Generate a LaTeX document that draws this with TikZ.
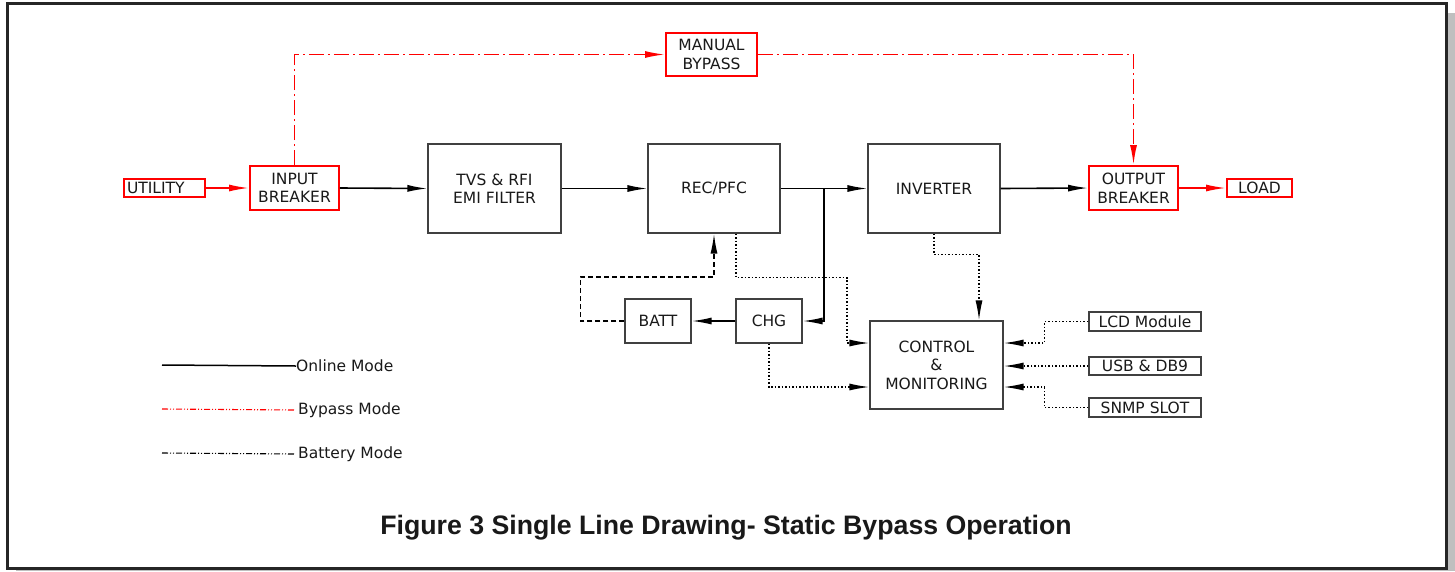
\documentclass[tikz,border=0pt]{standalone}
\usepackage{fontspec}
\setmainfont{DejaVu Sans}
\newfontfamily\capfont{Liberation Sans}
\usetikzlibrary{arrows.meta}
\usetikzlibrary{positioning}

\begin{document}
\begin{tikzpicture}[x=1pt, y=-1pt,
    blk/.style={draw=black!75, line width=1.1pt, inner sep=0pt, align=center,
      text=black!90, font=\fontsize{15.5}{18.5}\selectfont},
    redblk/.style={blk, draw=red, line width=1.9pt},
    tip/.style={-{Latex[length=20pt,width=7pt]}},
    online/.style={tip, line width=1.6pt},
    redline/.style={tip, red, line width=1.7pt},
    bypass/.style={tip, red, line width=1.7pt, dash pattern=on 15pt off 4pt on 2pt off 4pt},
    battline/.style={tip, line width=1.5pt, dash pattern=on 5pt off 3pt},
    ctrlline/.style={tip, line width=1.4pt, dash pattern=on 1.5pt off 2pt},
    legtxt/.style={anchor=west, inner sep=0pt, text=black!90, font=\fontsize{15.5}{18}\selectfont}]
  \path[use as bounding box] (0,0) rectangle (1455,571);
  % page frame
  \fill[black!25] (16,13) rectangle (1455,571);
  \draw[black!85, line width=3pt, fill=white] (7.5,3.5) rectangle (1446,568);

  % main path
  \node[redblk, minimum width=81, minimum height=18, text width=75, align=left] (util) at (164.5,188) {UTILITY};
  \node[redblk, minimum width=89, minimum height=44] (inbrk) at (294.5,188) {INPUT\\BREAKER};
  \node[blk, minimum width=133, minimum height=89] (tvs) at (494.5,188.5) {TVS \& RFI\\EMI FILTER};
  \node[blk, minimum width=132, minimum height=89] (rec) at (714,188.5) {REC/PFC};
  \node[blk, minimum width=132, minimum height=89] (inv) at (934,188.5) {INVERTER};
  \node[redblk, minimum width=89, minimum height=44] (outbrk) at (1133.5,188) {OUTPUT\\BREAKER};
  \node[redblk, minimum width=65, minimum height=18] (load) at (1259.5,188) {LOAD};
  \node[redblk, minimum width=91, minimum height=43] (manual) at (711.5,54.5) {MANUAL\\BYPASS};

  % battery and control
  \node[blk, minimum width=66, minimum height=44] (batt) at (658,321) {BATT};
  \node[blk, minimum width=66, minimum height=44] (chg) at (769,321) {CHG};
  \node[blk, minimum width=133, minimum height=88] (ctrl) at (936.5,365) {CONTROL\\\&\\MONITORING};
  \node[blk, minimum width=112, minimum height=19] (lcd) at (1145,321.5) {LCD Module};
  \node[blk, minimum width=112, minimum height=18] (usb) at (1145,366) {USB \& DB9};
  \node[blk, minimum width=112, minimum height=19] (snmp) at (1145,407.5) {SNMP SLOT};

  \draw[redline] (util.east) -- (inbrk.west);
  \draw[online] (inbrk.east) -- (tvs.west);
  \draw[online] (tvs.east) -- (rec.west);
  \draw[online] (rec.east) -- (inv.west);
  \draw[online] (inv.east) -- (outbrk.west);
  \draw[redline] (outbrk.east) -- (load.west);

  \draw[bypass] (inbrk.north) |- (manual.west);
  \draw[bypass] (manual.east) -| (outbrk.north);

  \coordinate (tap) at (824,188.5);
  \draw[online] (tap) |- (chg.east);
  \draw[online] (chg.west) -- (batt.east);
  \draw[battline] (batt.west) -- ++(-44,0) -- ++(0,-44) -| (rec.south);

  \draw[ctrlline] ([xshift=22pt]rec.south) -- ++(0,44) -- ++(111,0) |- ([yshift=22pt]ctrl.west);
  \draw[ctrlline] (chg.south) |- ([yshift=-22pt]ctrl.west);
  \draw[ctrlline] (inv.south) -- ++(0,21) -| ([xshift=42.5pt]ctrl.north);
  \draw[ctrlline] (lcd.west) -- ++(-44,0) |- ([yshift=22pt]ctrl.east);
  \draw[ctrlline] (usb.west) -- (ctrl.east |- usb.west);
  \draw[ctrlline] (snmp.west) -- ++(-44,0) |- ([yshift=-22pt]ctrl.east);

  % legend
  \coordinate (lg1) at (162,365);
  \coordinate (lg2) at (162,409);
  \coordinate (lg3) at (162,453);
  \node[legtxt] (lgon) at (296,366) {Online Mode};
  \node[legtxt] (lgby) at (298,410) {Bypass Mode};
  \node[legtxt] (lgba) at (298,454) {Battery Mode};
  \draw[line width=1.5pt] (lg1) -- (lgon.west);
  \draw[red, line width=1.1pt, dash pattern=on 6pt off 2pt on 1pt off 2pt on 1pt off 2pt] (lg2) -- ([xshift=-3pt]lgby.west);
  \draw[line width=1.1pt, dash pattern=on 6pt off 2pt on 1pt off 2pt on 1pt off 2pt] (lg3) -- ([xshift=-3pt]lgba.west);

  % caption
  \node[text=black!90, font=\capfont\bfseries\fontsize{26.7}{30}\selectfont] (title) at (726,528)
    {Figure 3 Single Line Drawing- Static Bypass Operation};
\end{tikzpicture}
\end{document}
